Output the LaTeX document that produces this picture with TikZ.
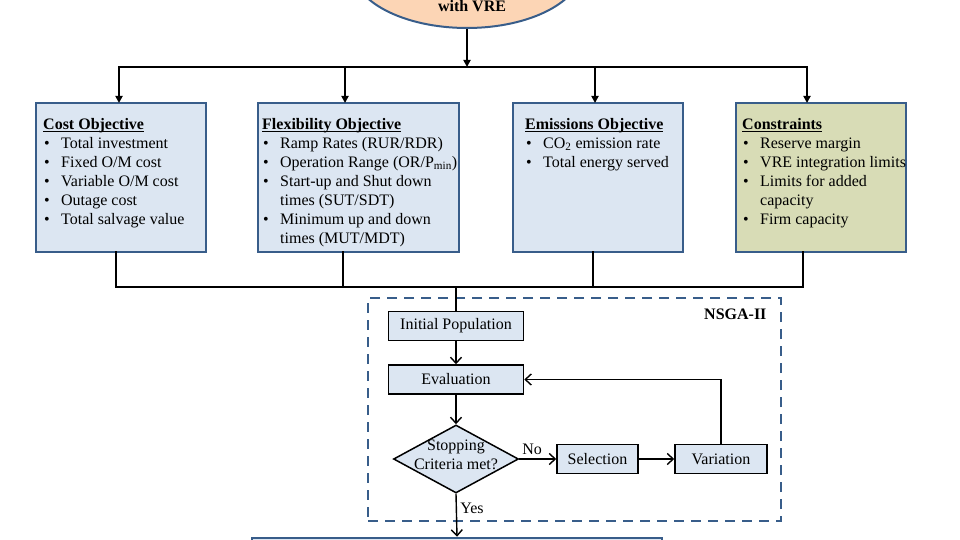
\documentclass[tikz,border=0pt]{standalone}
\usepackage{fontspec}
\setmainfont{Liberation Serif}
\usetikzlibrary{arrows.meta,shapes.geometric}
\definecolor{boxblue}{HTML}{DCE6F2}
\definecolor{boxedge}{HTML}{385D8A}
\definecolor{consgreen}{HTML}{D8DCB6}
\definecolor{planorange}{HTML}{FCD5B5}
\begin{document}
\begin{tikzpicture}[x=1pt, y=-1pt,
		every node/.style={font=\fontsize{16}{19}\selectfont},
		objbox/.style={draw=boxedge, line width=2.5pt, minimum height=149pt, inner sep=0pt, outer sep=0pt},
		objtext/.style={anchor=north west, align=left, inner sep=0pt},
		flowbox/.style={draw=black, line width=1.5pt, fill=boxblue, minimum height=29pt, inner sep=0pt},
		decision/.style={draw=black, line width=1.5pt, fill=boxblue, diamond, minimum width=125pt, minimum height=68pt, inner sep=0pt},
		bus/.style={line width=1.8pt, line cap=rect},
		busarrow/.style={line width=1.8pt, -{Triangle[length=7pt,width=7pt]}},
		flowarrow/.style={line width=1.4pt, -{Straight Barb[length=6pt,width=11pt]}}]
	\useasboundingbox (0,0) rectangle (960,540);
	\newcommand{\bul}{\hspace*{1pt}\makebox[17pt][l]{\textbullet}}
	\newcommand{\bulcont}{\hspace*{18pt}}
	\newcommand{\objTitle}[1]{\underline{\raisebox{0pt}[\height][0pt]{\textbf{#1}}}}
	\newcommand{\objBox}[6]{
		% draws one objective box
		% args:
		%     name
		%     x of center
		%     width
		%     fill color
		%     indent of the text
		%     title and items
		\node[objbox, fill=#4, minimum width=#3] (#1) at (#2, 177.5) {};
		\node[objtext] (#1_txt) at ([xshift=#5, yshift=-15]#1.north west) {#6};
	}
	%
	% planning model (only its lower part is in view)
	\node[ellipse, draw=boxedge, line width=2pt, fill=planorange, minimum width=230pt, minimum height=120pt] (plan) at (467,-32) {};
	\node[anchor=base, font=\fontsize{16}{19}\selectfont\bfseries] (plan_txt) at (472,12) {with VRE};
	%
	% objectives and constraints
	\objBox{cost}{121}{170}{boxblue}{7}{\objTitle{Cost Objective}\\ \bul Total investment\\ \bul Fixed O/M cost\\ \bul Variable O/M cost\\ \bul Outage cost\\ \bul Total salvage value}
	\objBox{flex}{358.5}{201}{boxblue}{4}{\objTitle{Flexibility Objective}\\ \bul Ramp Rates (RUR/RDR)\\ \bul Operation Range (OR/P\textsubscript{min})\\ \bul Start-up and Shut down\\ \bulcont times (SUT/SDT)\\ \bul Minimum up and down\\ \bulcont times (MUT/MDT)}
	\objBox{emis}{598}{170}{boxblue}{12}{\objTitle{Emissions Objective}\\ \bul CO\textsubscript{2} emission rate\\ \bul Total energy served}
	\objBox{cons}{821}{170}{consgreen}{6}{\objTitle{Constraints}\\ \bul Reserve margin\\ \bul VRE integration limits\\ \bul Limits for added\\ \bulcont capacity\\ \bul Firm capacity}
	%
	% NSGA-II loop
	\node[draw=boxedge, dash pattern=on 10pt off 7pt, line width=2.2pt, minimum width=413pt, minimum height=223pt, inner sep=0pt] (nsga) at (574.5,409.5) {};
	\node[anchor=east, font=\fontsize{16}{19}\selectfont\bfseries] (nsga_lbl) at (770,314) {NSGA-II};
	\node[flowbox, minimum width=135pt] (init) at (456,326) {Initial Population};
	\node[flowbox, minimum width=135pt] (eval) at (456,379.5) {Evaluation};
	\node[decision] (stop) at (456,459) {};
	\node[align=center, inner sep=0pt] (stop_txt) at (456,455) {Stopping\\Criteria met?};
	\node[flowbox, minimum width=81pt] (sel) at (597.5,459) {Selection};
	\node[flowbox, minimum width=92pt] (var) at (721,459) {Variation};
	% result box (cut off at the bottom)
	\node[draw=boxedge, line width=2.5pt, fill=boxblue, minimum width=410pt, minimum height=44pt] (result) at (457,560) {};
	%
	% top bus
	\coordinate (bus_top) at (467,67);
	\draw[busarrow] (plan.south) -- (bus_top);
	\foreach \n/\x in {cost/119, flex/345, emis/595, cons/807} {
		\coordinate (in_\n) at (\x,67);
		\draw[busarrow] (in_\n) -- (in_\n |- \n.north);
	}
	\draw[bus] (in_cost) -- (in_cons);
	% bottom bus
	\foreach \n/\x in {cost/116, flex/343, emis/593, cons/803} {
		\coordinate (out_\n) at (\x,287);
		\draw[bus] (out_\n |- \n.south) -- (out_\n);
	}
	\draw[bus] (out_cost) -- (out_cons);
	\draw[bus] (out_cost -| init.north) -- (init.north);
	%
	% loop arrows
	\draw[flowarrow] (init) -- (eval);
	\draw[flowarrow] (eval) -- (stop);
	\draw[flowarrow] (stop.east) -- node[above, pos=0.35, inner sep=4pt] (no_lbl) {No} (sel.west);
	\draw[flowarrow] (sel) -- (var);
	\draw[flowarrow] (var.north) |- (eval.east);
	\draw[flowarrow] (stop.south) -- node[right, pos=0.33] (yes_lbl) {Yes} (result.north);
\end{tikzpicture}
\end{document}
